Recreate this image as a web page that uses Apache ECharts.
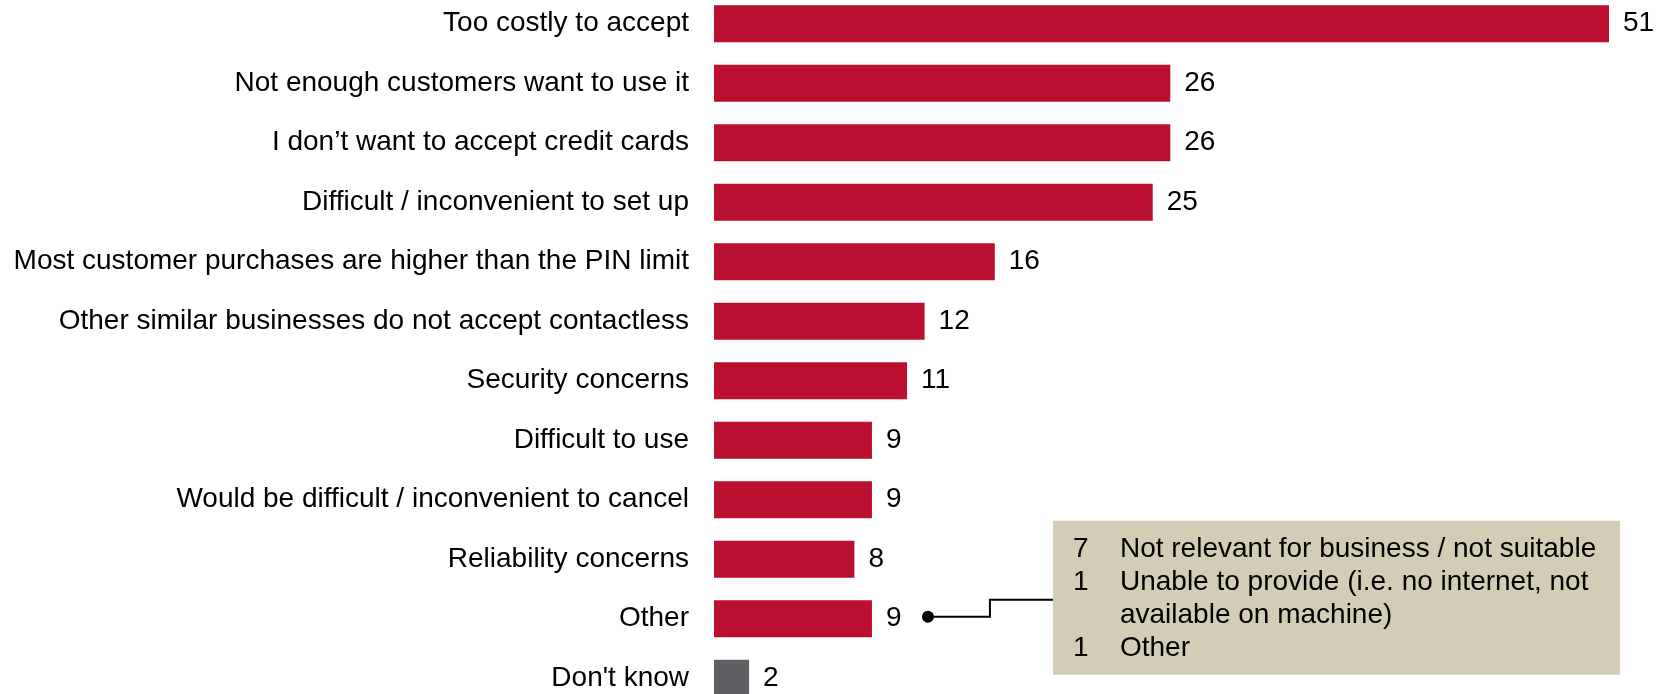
<!DOCTYPE html>
<html>
<head>
<meta charset="utf-8">
<script src="https://cdn.jsdelivr.net/npm/echarts@6/dist/echarts.min.js"></script>
<style>
  html, body { margin: 0; padding: 0; background: #fff; }
  #chart { width: 1656px; height: 694px; }
</style>
</head>
<body>
<div id="chart"></div>
<script>
// Reasons for not accepting contactless payments (%)
const categories = [
  "Too costly to accept",
  "Not enough customers want to use it",
  "I don\u2019t want to accept credit cards",
  "Difficult / inconvenient to set up",
  "Most customer purchases are higher than the PIN limit",
  "Other similar businesses do not accept contactless",
  "Security concerns",
  "Difficult to use",
  "Would be difficult / inconvenient to cancel",
  "Reliability concerns",
  "Other",
  "Don't know"
];
const values = [51, 26, 26, 25, 16, 12, 11, 9, 9, 8, 9, 2];

// Breakdown of the "Other" answers
const otherCounts = ["7", "1", "", "1"];
const otherTexts = [
  "Not relevant for business / not suitable",
  "Unable to provide (i.e. no internet, not",
  "available on machine)",
  "Other"
];
const otherCategory = "Other";

const RED = "#BA0F2E";
const GRAY = "#5F6064";
const FONT = "'Liberation Sans', Arial, sans-serif";
const FS = 28;

const chart = echarts.init(document.getElementById("chart"));

chart.setOption({
  animation: false,
  backgroundColor: "#ffffff",
  textStyle: { fontFamily: FONT },
  grid: {
    left: 714, right: 47, top: -6, height: 714,
    containLabel: false, outerBoundsMode: "none"
  },
  xAxis: {
    type: "value", min: 0, max: 51, show: false
  },
  yAxis: {
    type: "category",
    inverse: true,
    data: categories,
    axisLine: { show: false },
    axisTick: { show: false },
    splitLine: { show: false },
    axisLabel: { color: "#000", fontSize: FS, fontFamily: FONT, margin: 25 }
  },
  series: [{
    type: "bar",
    data: values,
    barWidth: 37,
    itemStyle: {
      color: function (p) { return p.name === "Don't know" ? GRAY : RED; }
    },
    label: {
      show: true, position: "right", distance: 14,
      color: "#000", fontSize: FS, fontFamily: FONT
    }
  }]
});

// Callout for the "Other" bar, anchored to the bar's end
const idx = categories.indexOf(otherCategory);
const end = chart.convertToPixel({ seriesIndex: 0 }, [values[idx], otherCategory]);
const dotX = end[0] + 56;
const dotY = end[1] - 2;
const boxX = dotX + 125, boxY = dotY - 96, boxW = 567, boxH = 154;

const textEls = [];
otherTexts.forEach(function (t, i) {
  const cy = boxY + 29 + i * 33;
  if (otherCounts[i]) {
    textEls.push({
      type: "text", x: boxX + 20, y: cy,
      style: { text: otherCounts[i], fill: "#000", font: FS + "px " + FONT, textVerticalAlign: "middle" }
    });
  }
  textEls.push({
    type: "text", x: boxX + 67, y: cy,
    style: { text: t, fill: "#000", font: FS + "px " + FONT, textVerticalAlign: "middle" }
  });
});

chart.setOption({
  graphic: [
    {
      type: "rect",
      shape: { x: boxX, y: boxY, width: boxW, height: boxH },
      style: { fill: "#D4CDB5" }
    },
    {
      type: "polyline",
      shape: { points: [[dotX, dotY], [dotX + 62, dotY], [dotX + 62, dotY - 17], [boxX, dotY - 17]] },
      style: { stroke: "#000", lineWidth: 2, fill: null }
    },
    {
      type: "circle",
      shape: { cx: dotX, cy: dotY, r: 6 },
      style: { fill: "#000" }
    }
  ].concat(textEls)
});
</script>
</body>
</html>
